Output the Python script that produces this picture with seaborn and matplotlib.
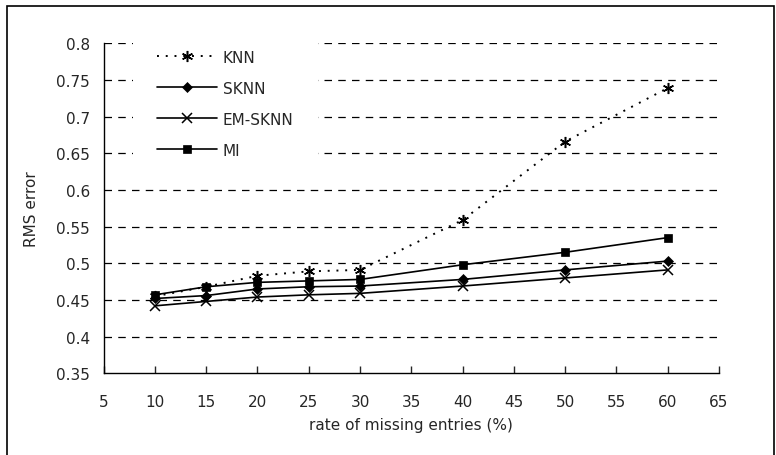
import numpy as np
import pandas as pd
import matplotlib
matplotlib.use("Agg")
import matplotlib.pyplot as plt
import seaborn as sns
from matplotlib.patches import Rectangle

# Data
rates = [10, 15, 20, 25, 30, 40, 50, 60]
knn = [0.455, 0.468, 0.483, 0.489, 0.491, 0.559, 0.666, 0.739]
sknn = [0.452, 0.456, 0.465, 0.468, 0.469, 0.478, 0.491, 0.503]
em_sknn = [0.442, 0.448, 0.454, 0.457, 0.459, 0.469, 0.480, 0.491]
mi = [0.457, 0.468, 0.474, 0.476, 0.478, 0.498, 0.515, 0.535]

series_names = ["KNN", "SKNN", "EM-SKNN", "MI"]
x_ticks = [5, 10, 15, 20, 25, 30, 35, 40, 45, 50, 55, 60, 65]
y_ticks = [0.35, 0.4, 0.45, 0.5, 0.55, 0.6, 0.65, 0.7, 0.75, 0.8]
y_tick_labels = ["0.35", "0.4", "0.45", "0.5", "0.55", "0.6", "0.65", "0.7", "0.75", "0.8"]

sns.set_style("white")
plt.rcParams['font.family'] = ['DejaVu Sans']

fig = plt.figure(figsize=(7.76, 4.56), dpi=100)
ax = fig.add_axes([0.1336, 0.1792, 0.9265 - 0.1336, 0.9028 - 0.1792])

# dashed horizontal gridlines
for yv in y_ticks[1:]:
    ax.axhline(yv, color='black', lw=0.9, ls=(0, (6, 5)), zorder=0)

styles = {
    "KNN": dict(ls=(0, (1, 3.5)), marker=(6, 2, 0), ms=8, mew=1.1),
    "SKNN": dict(ls='-', marker='D', ms=5.5, mew=0.5),
    "EM-SKNN": dict(ls='-', marker='x', ms=7.5, mew=1.1),
    "MI": dict(ls='-', marker='s', ms=6, mew=0.5),
}
values = {"KNN": knn, "SKNN": sknn, "EM-SKNN": em_sknn, "MI": mi}

for name in series_names:
    st = styles[name]
    sns.lineplot(x=rates, y=values[name], ax=ax, color='black',
                 linestyle=st['ls'], lw=1.4 if name == "KNN" else 1.2,
                 marker=st['marker'], markersize=st['ms'],
                 markeredgewidth=st['mew'], markeredgecolor='black',
                 markerfacecolor='black', label=name, zorder=3)

ax.set_xlim(5, 65)
ax.set_ylim(0.35, 0.8)
ax.set_xticks(x_ticks)
ax.set_xticklabels([str(v) for v in x_ticks])
ax.set_yticks(y_ticks)
ax.set_yticklabels(y_tick_labels)

for side in ['top', 'right']:
    ax.spines[side].set_visible(False)
for side in ['left', 'bottom']:
    ax.spines[side].set_color('black')
    ax.spines[side].set_linewidth(1.0)

ax.tick_params(axis='x', direction='in', length=5, width=1, pad=15,
               labelsize=11, bottom=True)
ax.tick_params(axis='y', length=0, pad=10, labelsize=11)

ax.set_xlabel("rate of missing entries (%)", fontsize=11, labelpad=6)
ax.set_ylabel("RMS error", fontsize=11, labelpad=12)

leg = ax.legend(loc='upper left', bbox_to_anchor=(0.035, 1.078), fontsize=11,
                frameon=True, fancybox=False, framealpha=1,
                handlelength=3.9, handletextpad=0.4, labelspacing=1.05,
                borderpad=1.6, numpoints=1)
leg.get_frame().set_edgecolor('none')
leg.get_frame().set_facecolor('white')
leg.set_zorder(2)

# outer frame around the figure
fig.patches.append(Rectangle((7 / 776, -0.05), (774 - 7) / 776, (449 + 23) / 456,
                             transform=fig.transFigure, fill=False,
                             edgecolor='black', lw=1.2))

fig.savefig("out.png", dpi=100)
